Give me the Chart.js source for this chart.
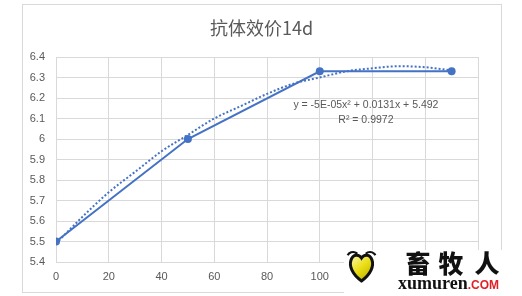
<!DOCTYPE html>
<html>
<head>
<meta charset="utf-8">
<script src="https://cdn.jsdelivr.net/npm/chart.js@4.4.1/dist/chart.umd.min.js"></script>
<style>
  html, body { margin: 0; padding: 0; background: #fff; }
  #wrap { width: 522px; height: 296px; position: relative; }
</style>
</head>
<body>
<div id="wrap"><canvas id="titerChart" width="522" height="296"></canvas></div>
<script>
// measured points (day 14 antibody titer)
const doseX = [0, 50, 100, 150];
const titerY = [5.5, 6.0, 6.33, 6.33];

// dotted poly trendline
const trendX = [0, 10, 20, 30, 40, 50, 60, 70, 80, 90, 100, 110, 120, 130, 140, 150];
const trendY = [5.49, 5.62, 5.74, 5.84, 5.94, 6.02, 6.10, 6.16, 6.22, 6.27, 6.30, 6.33, 6.345, 6.355, 6.35, 6.335];

const xTicks = [0, 20, 40, 60, 80, 100, 120, 140, 160];
const yTicks = [5.4, 5.5, 5.6, 5.7, 5.8, 5.9, 6, 6.1, 6.2, 6.3, 6.4];

const chartTitle = "抗体效价14d";
const eqLines = ["y = -5E-05x² + 0.0131x + 5.492", "R² = 0.9972"];

const blue = "#4472C4";
const gridColor = "#d9d9d9";
const textColor = "#595959";

// frame, title, equation label and the site watermark
const decoPlugin = {
  id: "deco",
  beforeDraw(chart) {
    const c = chart.ctx;
    c.save();
    c.strokeStyle = gridColor;
    c.lineWidth = 1;
    c.strokeRect(22.5, 4.5, 479, 288);
    c.restore();
  },
  afterDraw(chart) {
    const c = chart.ctx;
    const xs = chart.scales.x, ys = chart.scales.y;
    c.save();
    // title
    c.fillStyle = textColor;
    c.font = "18px 'Noto Sans CJK SC'";
    c.textAlign = "center";
    c.textBaseline = "middle";
    c.fillText(chartTitle, 261.5, 28);
    // trendline equation
    c.font = "10.5px 'Liberation Sans'";
    c.fillText(eqLines[0], xs.getPixelForValue(117.5), ys.getPixelForValue(6.166));
    c.fillText(eqLines[1], xs.getPixelForValue(117.5), ys.getPixelForValue(6.093));

    // watermark
    c.fillStyle = "#fff";
    c.fillRect(344, 250, 170, 46);
    // heart
    c.beginPath();
    c.moveTo(361.5, 281);
    c.bezierCurveTo(352, 274, 349, 266, 351, 260);
    c.bezierCurveTo(353, 254, 359, 254, 361.5, 258);
    c.bezierCurveTo(364, 254, 370, 254, 372, 260);
    c.bezierCurveTo(374, 266, 371, 274, 361.5, 281);
    c.closePath();
    const g = c.createLinearGradient(352, 256, 372, 280);
    g.addColorStop(0, "#fbf6a0");
    g.addColorStop(0.5, "#e8dc10");
    g.addColorStop(1, "#b8a800");
    c.fillStyle = g;
    c.fill();
    c.lineWidth = 3;
    c.strokeStyle = "#111";
    c.stroke();
    // brows
    c.lineWidth = 2.2;
    c.beginPath();
    c.arc(353, 258, 6, 1.15 * Math.PI, 1.75 * Math.PI);
    c.stroke();
    c.beginPath();
    c.arc(370, 258, 6, 1.25 * Math.PI, 1.85 * Math.PI);
    c.stroke();
    // site name
    c.fillStyle = "#111";
    c.font = "900 25px 'Noto Sans CJK SC'";
    c.textAlign = "center";
    c.textBaseline = "middle";
    c.fillText("畜", 418, 263);
    c.fillText("牧", 451, 263);
    c.fillText("人", 487, 263);
    c.textAlign = "left";
    c.textBaseline = "alphabetic";
    c.font = "bold 18px 'Liberation Serif'";
    c.fillText("xumuren", 398, 289);
    const w = c.measureText("xumuren").width;
    c.fillStyle = "#e31e24";
    c.font = "bold 12px 'Liberation Sans'";
    c.fillText(".COM", 398 + w, 289);
    c.restore();
  }
};

const ctx = document.getElementById("titerChart").getContext("2d");

new Chart(ctx, {
  type: "line",
  data: {
    datasets: [
      {
        label: "抗体效价",
        data: doseX.map((x, i) => ({ x: x, y: titerY[i] })),
        borderColor: blue,
        backgroundColor: blue,
        borderWidth: 2,
        pointRadius: 4,
        pointBorderWidth: 0,
        tension: 0,
        order: 1,
      },
      {
        label: "多项式趋势线",
        data: trendX.map((x, i) => ({ x: x, y: trendY[i] })),
        borderColor: blue,
        borderWidth: 2,
        borderDash: [2, 2],
        pointRadius: 0,
        cubicInterpolationMode: "monotone",
        order: 2,
      },
    ],
  },
  options: {
    responsive: false,
    animation: false,
    layout: {
      padding: { left: 22, right: 44, top: 57, bottom: 4 },
    },
    plugins: {
      legend: { display: false },
      title: { display: false },
      tooltip: { enabled: false },
    },
    scales: {
      x: {
        type: "linear",
        min: 0,
        max: 160,
        afterBuildTicks: (s) => { s.ticks = xTicks.map((v) => ({ value: v })); },
        afterFit: (s) => { s.height = 30; },
        grid: { color: gridColor, drawTicks: false },
        border: { color: gridColor },
        ticks: {
          color: textColor,
          font: { family: "Liberation Sans", size: 11 },
          padding: 8,
          maxRotation: 0,
        },
      },
      y: {
        min: 5.4,
        max: 6.4,
        afterBuildTicks: (s) => { s.ticks = yTicks.map((v) => ({ value: v })); },
        afterFit: (s) => { s.width = 34; },
        grid: { color: gridColor, drawTicks: false },
        border: { color: gridColor },
        ticks: {
          color: textColor,
          font: { family: "Liberation Sans", size: 11 },
          padding: 11,
          callback: (v) => String(Number(v.toFixed(1))),
        },
      },
    },
  },
  plugins: [decoPlugin],
});
</script>
</body>
</html>
